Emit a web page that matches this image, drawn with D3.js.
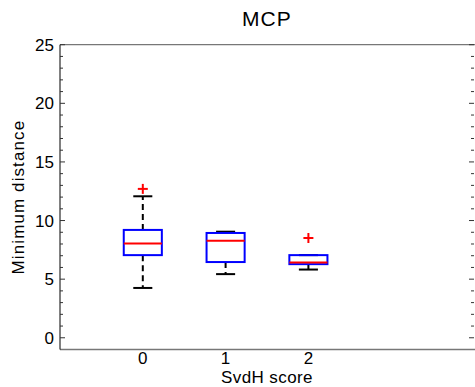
<!DOCTYPE html>
<html><head><meta charset="utf-8">
<script src="https://cdn.jsdelivr.net/npm/d3@7"></script>
<style>body{margin:0;background:#fff}svg{display:block;font-family:"Liberation Sans",Arial,sans-serif}</style>
</head><body><svg id="c" width="475" height="387"></svg>
<script>
const categories = ["0","1","2"];
const lowerWhisker = [4.25, 5.43, 5.82];
const q1 = [7.05, 6.46, 6.28];
const median = [8.05, 8.28, 6.42];
const q3 = [9.2, 8.94, 7.05];
const upperWhisker = [12.07, 9.05, 7.05];
const outliers = [[12.7], [], [8.51]];
const yTicks = [0,5,10,15,20,25];
const title = "MCP", xLabel = "SvdH score", yLabel = "Minimum distance";

const svg = d3.select("#c");
const L=60, R=474, T=44.7, B=349.5;
const x = d3.scaleLinear().domain([-1,4]).range([L,R]);
const y = d3.scaleLinear().domain([-1,25]).range([B,T]);

// frame
svg.append("line").attr("x1",L).attr("x2",R+2).attr("y1",T).attr("y2",T).attr("stroke","#777").attr("stroke-width",1.3);
svg.append("line").attr("x1",L).attr("x2",R+2).attr("y1",B).attr("y2",B).attr("stroke","#777").attr("stroke-width",1.3);
svg.append("line").attr("x1",L).attr("x2",L).attr("y1",T).attr("y2",B).attr("stroke","#000").attr("stroke-width",1);

// y ticks left & right
const minor = d3.range(0,26,1);
minor.forEach(v=>{
  const len = v%5===0?5:3;
  svg.append("line").attr("x1",L).attr("x2",L+len).attr("y1",y(v)).attr("y2",y(v)).attr("stroke","#333").attr("stroke-width",1);
  svg.append("line").attr("x1",R).attr("x2",R-len).attr("y1",y(v)).attr("y2",y(v)).attr("stroke","#333").attr("stroke-width",1);
});
svg.selectAll(".yt").data(yTicks).enter().append("text")
  .attr("x",L-6).attr("y",d=>y(d)).attr("dy","0.36em").attr("text-anchor","end")
  .attr("font-size",17).text(d=>d);
svg.selectAll(".xt").data(categories).enter().append("text")
  .attr("x",(d,i)=>x(i)).attr("y",364).attr("text-anchor","middle")
  .attr("font-size",17).text(d=>d);
svg.append("text").attr("x",(L+R)/2).attr("y",383).attr("text-anchor","middle").attr("font-size",17).attr("letter-spacing",0.4).text(xLabel);
svg.append("text").attr("transform",`translate(24,${(T+B)/2}) rotate(-90)`).attr("text-anchor","middle").attr("font-size",17).attr("letter-spacing",1.1).text(yLabel);
svg.append("text").attr("x",(L+R)/2).attr("y",26).attr("text-anchor","middle").attr("font-size",21).attr("letter-spacing",1.1).text(title);

const bw = 0.23, cw = 0.115;
categories.forEach((c,i)=>{
  const g = svg.append("g");
  if (upperWhisker[i] > q3[i]) g.append("line").attr("x1",x(i)).attr("x2",x(i)).attr("y1",y(q3[i])).attr("y2",y(upperWhisker[i])).attr("stroke","#000").attr("stroke-width",2).attr("stroke-dasharray","6,4");
  if (lowerWhisker[i] < q1[i]) g.append("line").attr("x1",x(i)).attr("x2",x(i)).attr("y1",y(q1[i])).attr("y2",y(lowerWhisker[i])).attr("stroke","#000").attr("stroke-width",2).attr("stroke-dasharray","6,4");
  [upperWhisker[i], lowerWhisker[i]].forEach(v=>{
    g.append("line").attr("x1",x(i-cw)).attr("x2",x(i+cw)).attr("y1",y(v)).attr("y2",y(v)).attr("stroke","#000").attr("stroke-width",2);
  });
  g.append("rect").attr("x",x(i-bw)).attr("width",x(i+bw)-x(i-bw)).attr("y",y(q3[i])).attr("height",y(q1[i])-y(q3[i]))
    .attr("fill","none").attr("stroke","#0000ff").attr("stroke-width",2);
  g.append("line").attr("x1",x(i-bw)).attr("x2",x(i+bw)).attr("y1",y(median[i])).attr("y2",y(median[i])).attr("stroke","#ff0000").attr("stroke-width",2);
  outliers[i].forEach(v=>{
    g.append("line").attr("x1",x(i)-5).attr("x2",x(i)+5).attr("y1",y(v)).attr("y2",y(v)).attr("stroke","#ff0000").attr("stroke-width",2);
    g.append("line").attr("x1",x(i)).attr("x2",x(i)).attr("y1",y(v)-5).attr("y2",y(v)+5).attr("stroke","#ff0000").attr("stroke-width",2);
  });
});
</script></body></html>
